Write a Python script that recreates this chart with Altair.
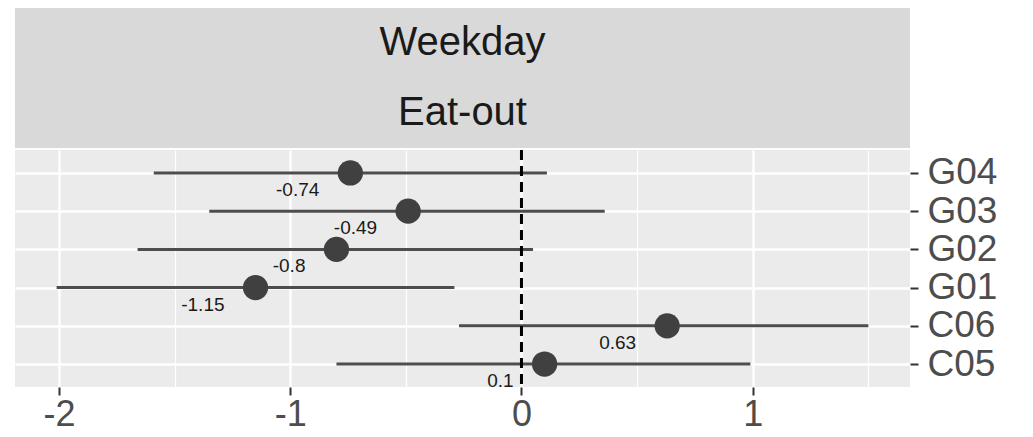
import altair as alt
import pandas as pd

# ---- data ----
groups = ["G04", "G03", "G02", "G01", "C06", "C05"]
estimates = [-0.74, -0.49, -0.80, -1.15, 0.63, 0.10]
lower = [-1.59, -1.35, -1.66, -2.01, -0.27, -0.80]
upper = [0.11, 0.36, 0.05, -0.29, 1.50, 0.99]
labels = ["-0.74", "-0.49", "-0.8", "-1.15", "0.63", "0.1"]
strip_labels = ["Weekday", "Eat-out"]
x_ticks = [-2, -1.5, -1, -0.5, 0, 0.5, 1, 1.5]
ref_line = [0]

df = pd.DataFrame(dict(group=groups, est=estimates, lo=lower, hi=upper, label=labels))
strip_df = pd.DataFrame(dict(strip=strip_labels))
ref_df = pd.DataFrame(dict(v=ref_line))

W, H, SH = 895, 237, 140
FONT = "Liberation Sans"

xscale = alt.Scale(domain=[-2.19, 1.68], nice=False, zero=False)
yscale = alt.Scale(type="point", padding=0.6, domain=groups)

xaxis = alt.Axis(
    values=x_ticks, title=None, grid=True, gridColor="white",
    gridWidth={"condition": {"test": "datum.value % 1 === 0", "value": 2.4}, "value": 1.2},
    labelExpr="datum.value % 1 === 0 ? toString(datum.value) : ''",
    tickOpacity={"condition": {"test": "datum.value % 1 !== 0", "value": 0}, "value": 1},
    labelFontSize=36, labelColor="#4d4d4d", labelFont=FONT, labelPadding=2,
    tickColor="#333333", tickSize=8, tickWidth=2, domain=False,
)
yaxis = alt.Axis(
    orient="right", title=None, grid=True, gridColor="white", gridWidth=2.4,
    labelFontSize=37, labelColor="#4d4d4d", labelFont=FONT, labelPadding=9,
    tickColor="#333333", tickSize=8, tickWidth=2, domain=False,
)

base = alt.Chart(df)

bars = base.mark_rule(color="#4d4d4d", strokeWidth=3).encode(
    x=alt.X("lo:Q", scale=xscale, axis=xaxis),
    x2="hi:Q",
    y=alt.Y("group:N", scale=yscale, axis=yaxis, sort=groups),
)

vline = alt.Chart(ref_df).mark_rule(color="black", strokeDash=[10, 6], strokeWidth=3).encode(
    x=alt.X("v:Q", scale=xscale, axis=xaxis)
)

points = base.mark_circle(size=640, color="#404040", opacity=1).encode(
    x=alt.X("est:Q", scale=xscale, axis=xaxis),
    y=alt.Y("group:N", scale=yscale, axis=yaxis, sort=groups),
)

texts = base.mark_text(align="right", baseline="middle", dx=-31, dy=17, fontSize=19,
                       color="#1a1a1a", font=FONT).encode(
    x=alt.X("est:Q", scale=xscale, axis=xaxis),
    y=alt.Y("group:N", scale=yscale, axis=yaxis, sort=groups),
    text="label:N",
)

main = alt.layer(bars, vline, points, texts).properties(
    width=W, height=H,
    view=alt.ViewBackground(fill="#ebebeb", strokeWidth=0),
)

strip = alt.Chart(strip_df).mark_text(fontSize=40, color="#1a1a1a", font=FONT, baseline="middle").encode(
    y=alt.Y("strip:N", sort=strip_labels, axis=None,
            scale=alt.Scale(type="band", paddingInner=0, paddingOuter=0)),
    x=alt.value({"expr": "width/2"}),
    text="strip:N",
).properties(
    width=W, height=SH,
    view=alt.ViewBackground(fill="#d9d9d9", strokeWidth=0),
)

chart = alt.vconcat(strip, main, spacing=0).properties(
    padding={"left": 7, "top": 0, "right": 5, "bottom": 0},
    background="white",
).configure(font=FONT)

chart.save("out.html", embed_options={"renderer": "svg", "actions": False})
